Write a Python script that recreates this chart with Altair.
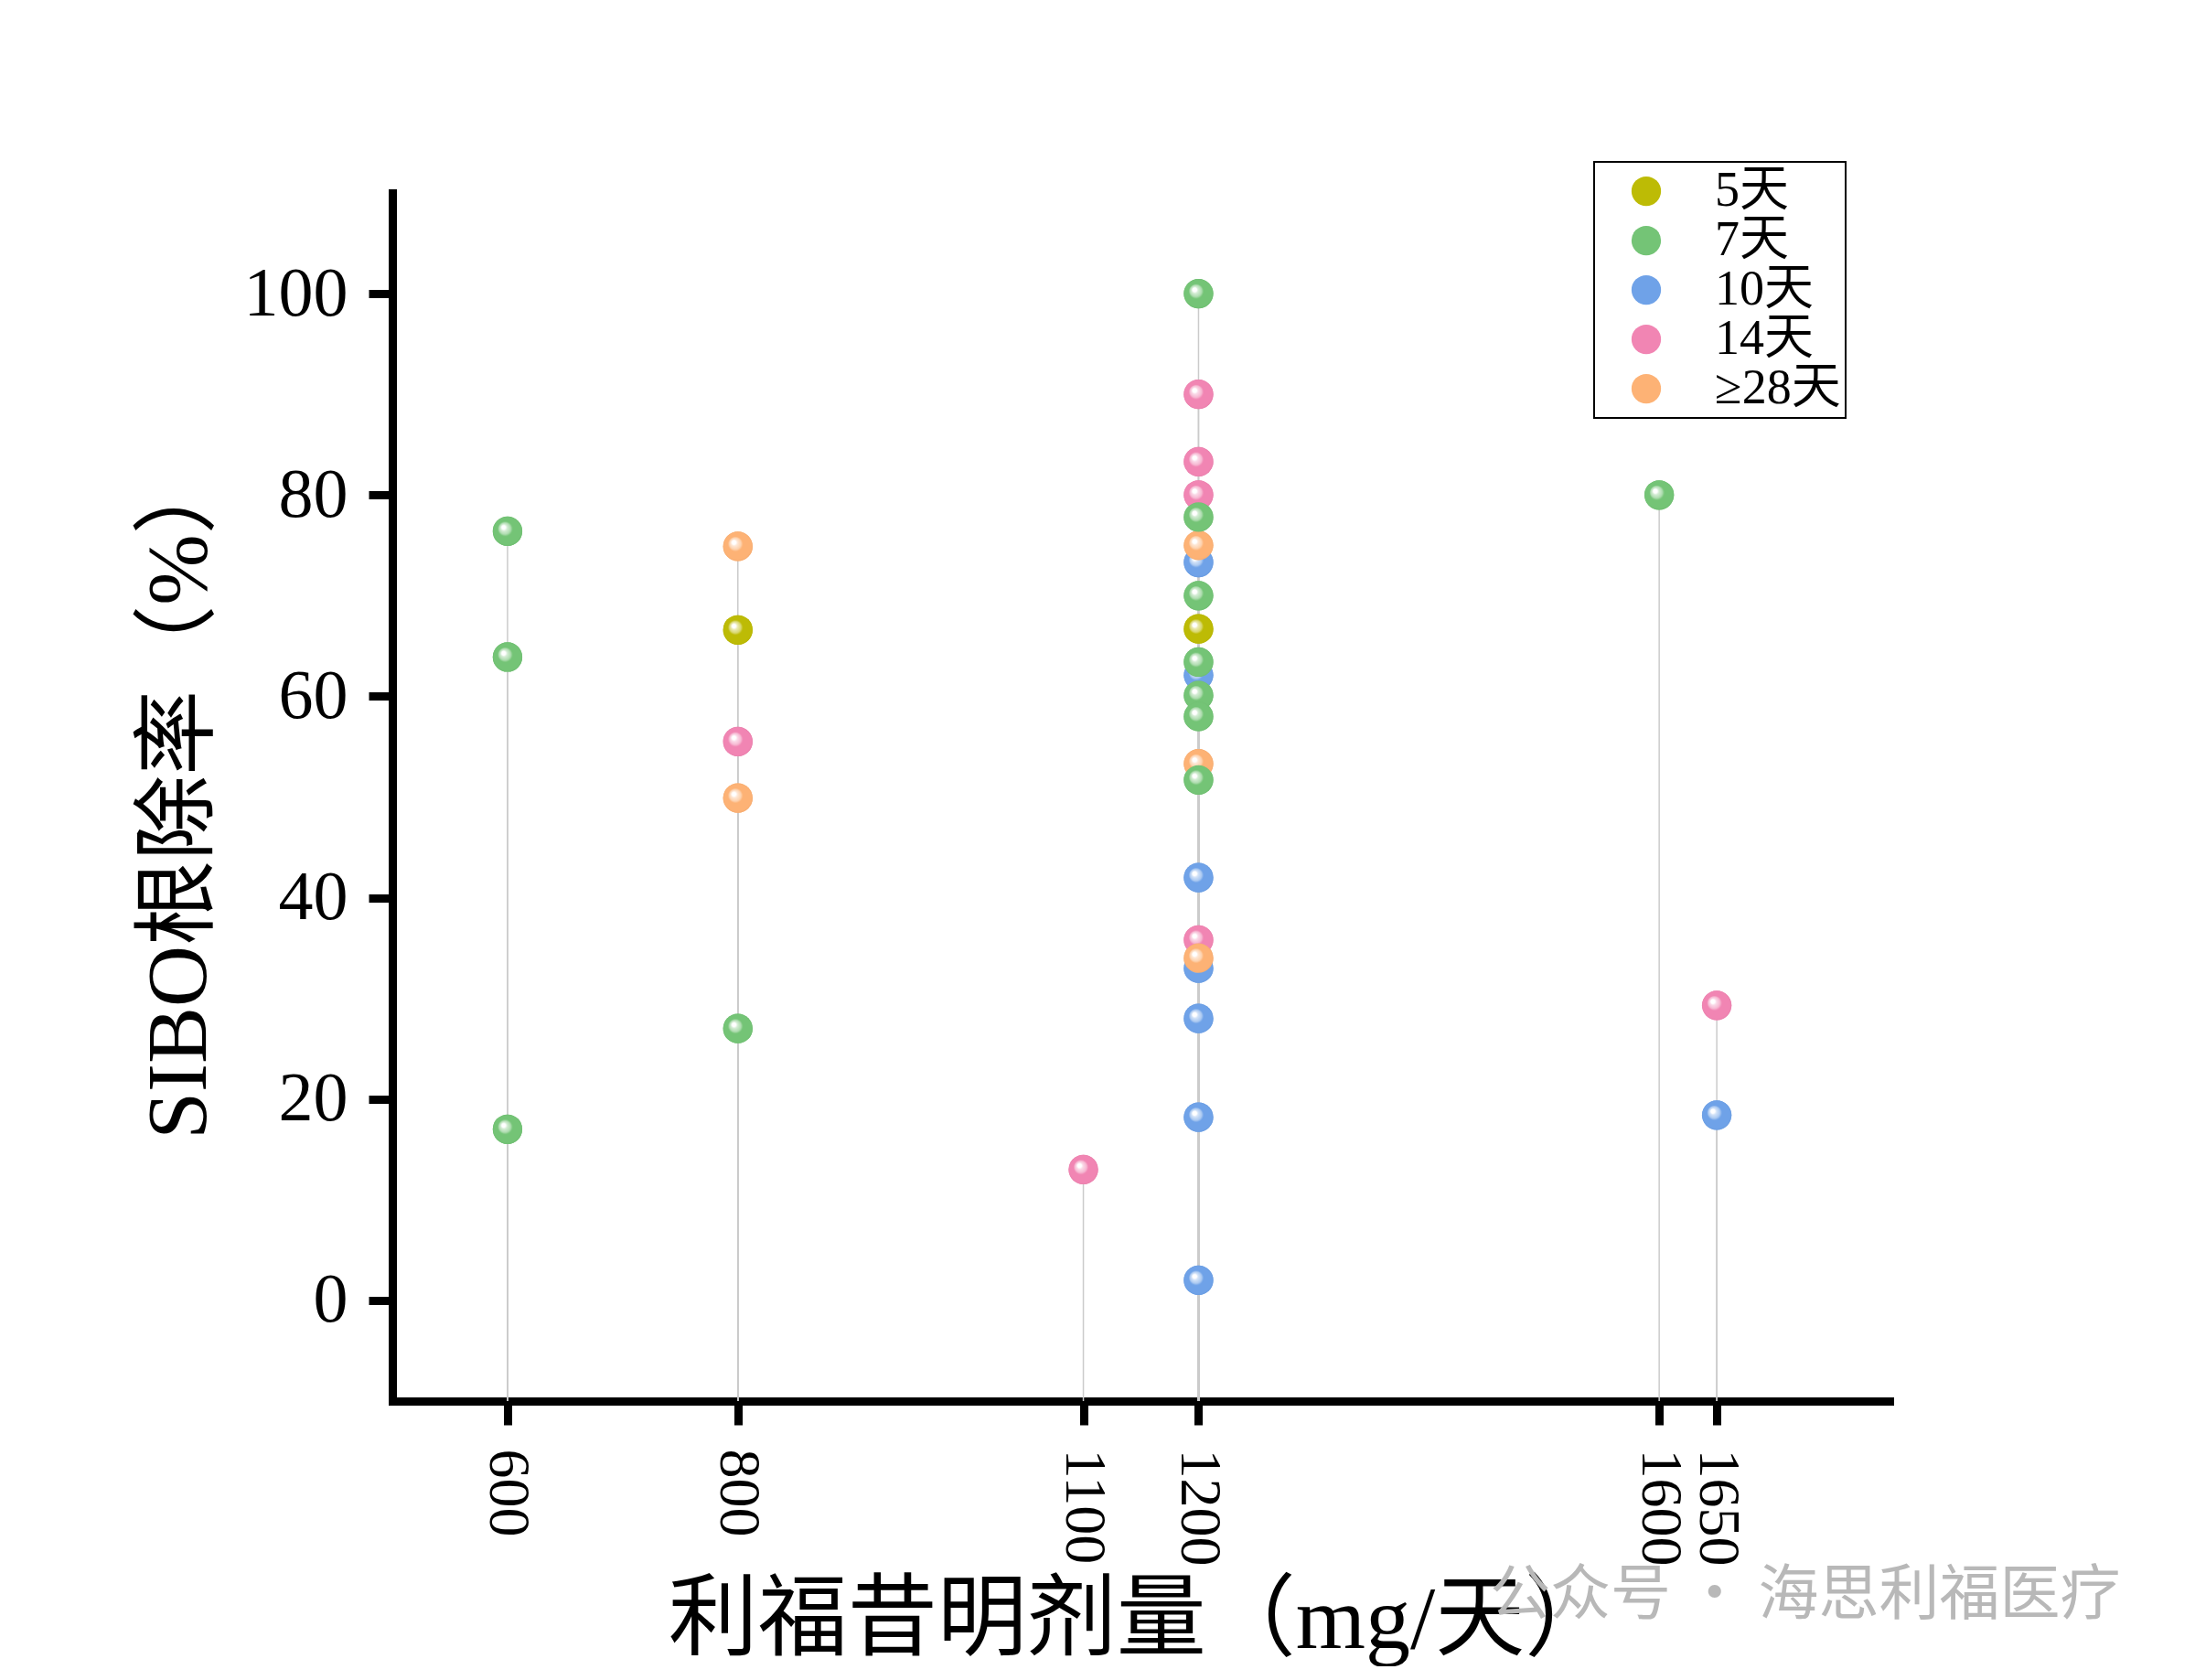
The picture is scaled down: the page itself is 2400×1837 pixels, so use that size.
import altair as alt
import pandas as pd

# ---------------- data ----------------
doses = [600, 600, 600,
         800, 800, 800, 800, 800,
         1100,
         1200, 1200, 1200, 1200, 1200, 1200, 1200, 1200, 1200, 1200, 1200,
         1200, 1200, 1200, 1200, 1200, 1200, 1200, 1200, 1200, 1200, 1200,
         1600,
         1650, 1650]
rates = [76.4, 63.9, 17.0,
         74.9, 66.6, 55.5, 49.9, 27.0,
         13.0,
         100.0, 90.0, 83.3, 80.0, 77.8, 75.0, 73.3, 70.0, 66.7, 63.4, 62.1,
         60.1, 58.0, 53.3, 51.7, 42.0, 35.8, 34.0, 33.0, 28.0, 18.2, 2.0,
         80.0,
         29.3, 18.4]
durations = ["7天", "7天", "7天",
             "≥28天", "5天", "14天", "≥28天", "7天",
             "14天",
             "7天", "14天", "14天", "14天", "7天", "≥28天", "10天", "7天", "5天", "7天", "10天",
             "7天", "7天", "≥28天", "7天", "10天", "14天", "≥28天", "10天", "10天", "10天", "10天",
             "7天",
             "14天", "10天"]

categories = ["5天", "7天", "10天", "14天", "≥28天"]
palette = ["#BDBB05", "#74C476", "#6FA2E8", "#F185B3", "#FDB275"]
draw_order = ["10天", "14天", "≥28天", "7天", "5天"]

x_ticks = [600, 800, 1100, 1200, 1600, 1650]
y_ticks = [0, 20, 40, 60, 80, 100]
x_domain = [500, 1800]
y_domain = [-10, 110]

x_title = "利福昔明剂量（mg/天）"
y_title = "SIBO根除率（%）"
watermark = "公众号 · 海思利福医疗"

df = pd.DataFrame({"dose": doses, "rate": rates, "duration": durations})

SERIF = "'Liberation Serif', 'Noto Sans CJK SC', serif"
CJK = "'Noto Sans CJK SC', sans-serif"


def lighten(hex_color, f):
    h = hex_color.lstrip("#")
    r, g, b = int(h[0:2], 16), int(h[2:4], 16), int(h[4:6], 16)
    r = int(r + (255 - r) * f)
    g = int(g + (255 - g) * f)
    b = int(b + (255 - b) * f)
    return "#%02x%02x%02x" % (r, g, b)


def darken(hex_color, f):
    h = hex_color.lstrip("#")
    r, g, b = int(h[0:2], 16), int(h[2:4], 16), int(h[4:6], 16)
    return "#%02x%02x%02x" % (int(r * (1 - f)), int(g * (1 - f)), int(b * (1 - f)))


x_enc = alt.X(
    "dose:Q",
    scale=alt.Scale(domain=x_domain, nice=False, zero=False),
    axis=alt.Axis(
        values=x_ticks, format="d", labelOverlap=False,
        labelAngle=90, labelAlign="left", labelBaseline="middle",
        labelFontSize=64, labelPadding=26, tickSize=26,
        title=x_title, titleFontSize=98, titlePadding=12,
    ),
)
y_enc = alt.Y(
    "rate:Q",
    scale=alt.Scale(domain=y_domain, nice=False, zero=False),
    axis=alt.Axis(
        values=y_ticks, format="d", labelOverlap=False,
        labelFontSize=76, labelPadding=23, tickSize=26,
        title=y_title, titleFontSize=93, titlePadding=22, titleY=657,
    ),
)

base = alt.Chart(df)

rules = base.mark_rule(color="#cbcbcb", strokeWidth=1.5).encode(
    x=x_enc, y=y_enc, y2=alt.datum(-10)
)

SIZE = 1040

legend_layer = base.mark_circle(size=SIZE, opacity=1).encode(
    x=x_enc, y=y_enc,
    color=alt.Color(
        "duration:N",
        scale=alt.Scale(domain=categories, range=palette),
        legend=alt.Legend(orient="none", legendX=1314, legendY=-34, title=None),
    ),
)

glossy_layers = []
for cat in draw_order:
    c = palette[categories.index(cat)]
    grad = alt.RadialGradient(
        gradient="radial", x1=0.345, y1=0.345, r1=0, x2=0.5, y2=0.5, r2=0.5,
        stops=[
            alt.GradientStop(offset=0.0, color="#ffffff"),
            alt.GradientStop(offset=0.14, color="#ffffff"),
            alt.GradientStop(offset=0.22, color=lighten(c, 0.7)),
            alt.GradientStop(offset=0.4, color=lighten(c, 0.42)),
            alt.GradientStop(offset=0.5, color=c),
            alt.GradientStop(offset=0.92, color=c),
            alt.GradientStop(offset=1.0, color=darken(c, 0.03)),
        ],
    )
    glossy_layers.append(
        base.transform_filter(alt.datum.duration == cat)
        .mark_circle(size=SIZE, opacity=1, color=grad)
        .encode(x=x_enc, y=y_enc)
    )

wm = alt.Chart(pd.DataFrame({"t": [watermark]})).mark_text(
    align="left", baseline="middle", fontSize=66, color="#b8b8b8", font=CJK
).encode(text="t:N", x=alt.value(1200), y=alt.value(1534))

chart = alt.layer(rules, legend_layer, *glossy_layers, wm).properties(
    width=1637, height=1321,
    background="white",
    autosize=alt.AutoSizeParams(type="none"),
    padding={"left": 421, "top": 203, "right": 320, "bottom": 290},
).configure_view(stroke=None).configure_axis(
    grid=False, domainColor="black", domainWidth=9, domainCap="square",
    tickColor="black", tickWidth=9,
    labelFont=SERIF, labelColor="black",
    titleFont=SERIF, titleColor="black", titleFontWeight="normal",
).configure_legend(
    strokeColor="black", strokeWidth=2, fillColor="white", cornerRadius=0,
    padding=5, symbolSize=SIZE, symbolType="circle", symbolStrokeWidth=0,
    symbolOffset=25, labelOffset=48, labelFontSize=54, labelFont=SERIF,
    labelColor="black", labelLimit=500, rowPadding=-4,
)

chart.save("out.html", embed_options={"renderer": "svg", "actions": False})
